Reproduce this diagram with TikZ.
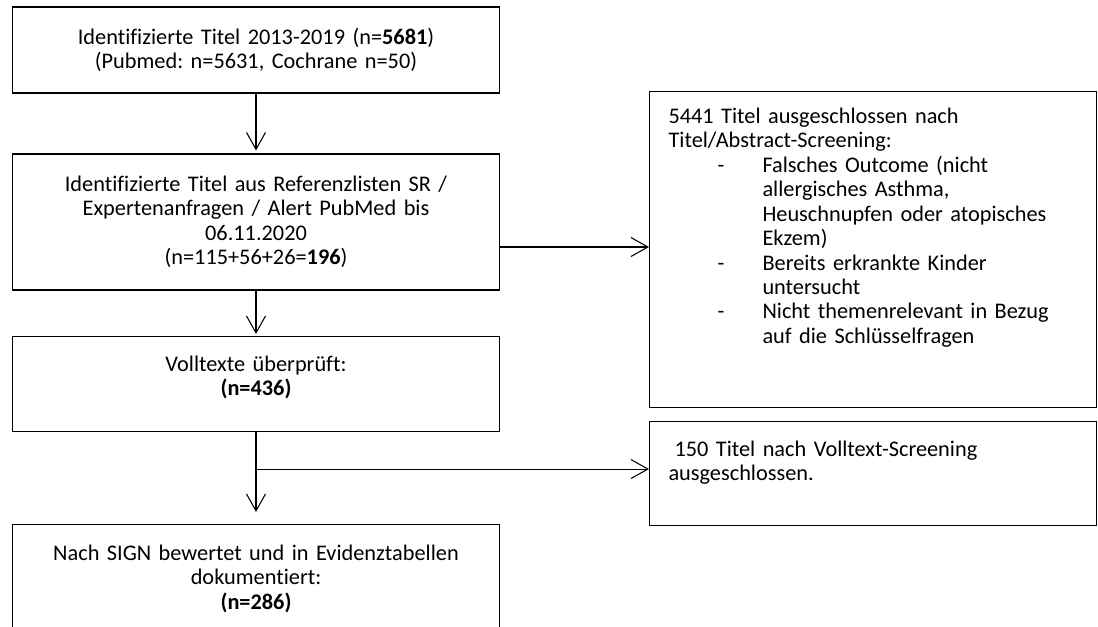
\documentclass[tikz,border=0pt]{standalone}
\usepackage{fontspec}
\setmainfont{Carlito}[Ligatures=NoCommon]
\usepackage{tikz}
\usetikzlibrary{arrows.meta}
\frenchspacing
\newcommand{\listdash}{\hspace*{0.98cm}\makebox[0.9cm][l]{-}}
\newcommand{\listcont}{\hspace*{1.88cm}}

\begin{document}
\begin{tikzpicture}[->,>={Straight Barb[length=0.34cm,width=0.38cm]},
                    x=0.02cm,y=-0.02cm,line width=0.6pt]
\tikzstyle{every node}=[font=\fontsize{12.7}{13.9}\selectfont]
\tikzstyle{box}=[draw=black,rectangle,minimum width=9.76cm,text width=9.4cm,
                 align=center,inner sep=0pt]
\tikzstyle{topbox}=[box,anchor=north,text height=0.7cm]
\tikzstyle{sidebox}=[draw=black,rectangle,anchor=north west,align=left,
                     text width=8.18cm,inner xsep=0.38cm,inner ysep=0pt,
                     text height=0.7cm]
\useasboundingbox (0,0) rectangle (1098,626);
\node[box,minimum height=1.72cm] (1) at (256,50)
  {Identifizierte Titel 2013-2019 (n=\textbf{5681})\\
   (Pubmed: n=5631, Cochrane n=50)};
\node[box,minimum height=2.72cm] (2) at (256,222)
  {Identifizierte Titel aus Referenzlisten SR /\\
   Expertenanfragen / Alert PubMed bis\\
   06.11.2020\\
   (n=115+56+26=\textbf{196})};
\node[topbox,text depth=1.2cm] (4) at (256,336)
  {Volltexte überprüft:\\ \textbf{(n=436)}};
\node[topbox,text height=0.72cm,text depth=2.08cm] (5) at (256,524)
  {Nach SIGN bewertet und in Evidenztabellen\\
   dokumentiert:\\ \textbf{(n=286)}};
\node[sidebox,text height=0.64cm,text depth=5.68cm] (3) at (649,91)
  {5441 Titel ausgeschlossen nach\\
   Titel/Abstract-Screening:\\
   \listdash Falsches Outcome (nicht\\
   \listcont allergisches Asthma,\\
   \listcont Heuschnupfen oder atopisches\\
   \listcont Ekzem)\\
   \listdash Bereits erkrankte Kinder\\
   \listcont untersucht\\
   \listdash Nicht themenrelevant in Bezug\\
   \listcont auf die Schlüsselfragen};
\node[sidebox,text depth=1.38cm] (6) at (649,421)
  {\hspace*{0.12cm}150 Titel nach Volltext-Screening\\
   ausgeschlossen.};

\coordinate (a) at ([yshift=-0.5cm]2.east);
\coordinate (b) at ([yshift=-0.74cm]4.south);
\path (1) edge [shorten >=0.06cm] (2)
      (2) edge [shorten >=0.04cm] (4)
      (a) edge (a -| 3.west)
      (4) edge [shorten >=0.24cm] (5)
      (b) edge (b -| 6.west);

\end{tikzpicture}
\end{document}
